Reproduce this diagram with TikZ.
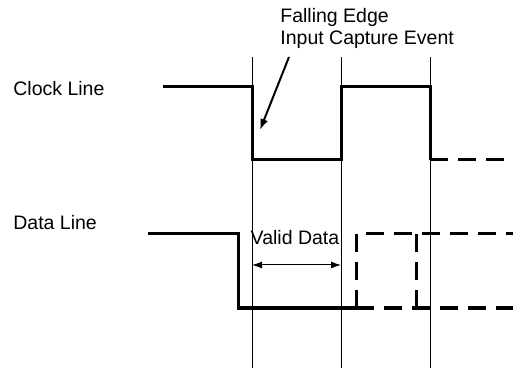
\documentclass[tikz,border=0pt]{standalone}
\usepackage{fontspec}
\setmainfont{Liberation Sans}
\usepackage{tikz}
\usetikzlibrary{arrows.meta}
\tikzset{
  lbl/.style={font=\fontsize{9.75}{11}\selectfont,inner sep=0pt},
  guide/.style={draw=black,line width=0.5pt},
  wave/.style={draw=black,line width=1.5pt,line join=miter},
  future/.style={wave,dash pattern=on 9pt off 5pt},
  flow/.style={-{Latex[length=5.5pt,width=4pt]},line width=1pt},
  span/.style={{Latex[length=5pt,width=3.5pt]}-{Latex[length=5pt,width=3.5pt]},line width=0.5pt},
}

\begin{document}
\begin{tikzpicture}[x=0.5pt,y=-0.5pt]
\useasboundingbox (0,0) rectangle (513,368);
% guide lines
\foreach \gx/\gname in {252/ga,341/gb,430/gc} {
  \coordinate (\gname top) at (\gx,57);
  \coordinate (\gname bot) at (\gx,368);
  \draw[guide] (\gname top) -- (\gname bot);
}
% labels
\node[lbl,anchor=west] (clklabel) at (13,89) {Clock Line};
\node[lbl,anchor=west] (datalabel) at (13,223) {Data Line};
\node[lbl,anchor=west,align=left] (edgelabel) at (280,28) {Falling Edge\\Input Capture Event};
\node[lbl] (validlabel) at (295,238) {Valid Data};
% clock line
\draw[wave] (163,87) -- (252,87) -- (252,160) -- (341,160) -- (341,87) -- (430,87) -- (430,160);
\draw[future] (430,160) -- (513,160);
% data line
\draw[wave] (148,234) -- (238,234) -- (238,308) -- (356,308);
\draw[future] (356,308) -- (356,234) -- (513,234);
\draw[future] (356,308) -- (513,308);
\draw[future] (416,234) -- (416,308);
% arrows
\coordinate (edgefrom) at (289,57);
\coordinate (edgeto) at (260,130);
\draw[flow] (edgefrom) -- (edgeto);
\coordinate (validl) at (252,265);
\coordinate (validr) at (341,265);
\draw[span] (validl) -- (validr);
\end{tikzpicture}
\end{document}
